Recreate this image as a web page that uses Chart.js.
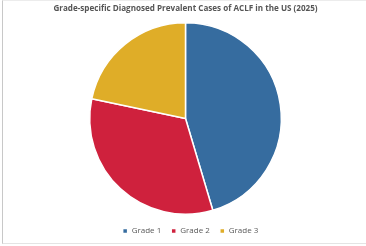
<!DOCTYPE html>
<html>
<head>
<meta charset="utf-8">
<script src="https://cdn.jsdelivr.net/npm/chart.js@4.4.0/dist/chart.umd.min.js"></script>
<style>
  body { margin: 0; background: #fff; }
  .frame {
    position: absolute; left: 2px; top: 0; width: 364px; height: 242px;
    border-left: 1px solid #c8c8c8; border-top: 1px solid #ececec; border-bottom: 1px solid #e4e4e4;
  }
  .frame canvas { display: block; }
</style>
</head>
<body>
<div class="frame"><canvas id="pie-chart" width="363" height="242"></canvas></div>
<script>
  // data
  var grades = ['Grade 1', 'Grade 2', 'Grade 3'];
  var shares = [45.4, 32.9, 21.7];
  var colors = ['#366c9f', '#cf213d', '#dfad28'];

  // nudge the legend a little right and down, like the original
  var legendNudge = {
    id: 'legendNudge',
    afterLayout: function (chart) {
      var lg = chart.legend;
      lg.left += 5; lg.right += 5;
      lg.top += 2; lg.bottom += 2;
    }
  };

  document.addEventListener('DOMContentLoaded', function () {
    var ctx = document.getElementById('pie-chart').getContext('2d');

    var pieChart = new Chart(ctx, {
      type: 'pie',
      data: {
        labels: grades,
        datasets: [{
          data: shares,
          backgroundColor: colors,
          borderColor: '#ffffff',
          borderWidth: 1.5
        }]
      },
      options: {
        responsive: false,
        animation: false,
        layout: { padding: { left: 2, right: 0, top: 0, bottom: 0 } },
        plugins: {
          title: {
            display: true,
            text: 'Grade-specific Diagnosed Prevalent Cases of ACLF in the US (2025)',
            color: '#555555',
            font: { family: 'Open Sans', size: 8.1, weight: 'bold' },
            padding: { top: 2.5, bottom: 8.7 }
          },
          legend: {
            position: 'bottom',
            labels: {
              color: '#595959',
              font: { family: 'Open Sans', size: 8 },
              boxWidth: 5,
              boxHeight: 5,
              padding: 10
            }
          },
          tooltip: { enabled: false }
        }
      },
      plugins: [legendNudge]
    });
  });
</script>
</body>
</html>
